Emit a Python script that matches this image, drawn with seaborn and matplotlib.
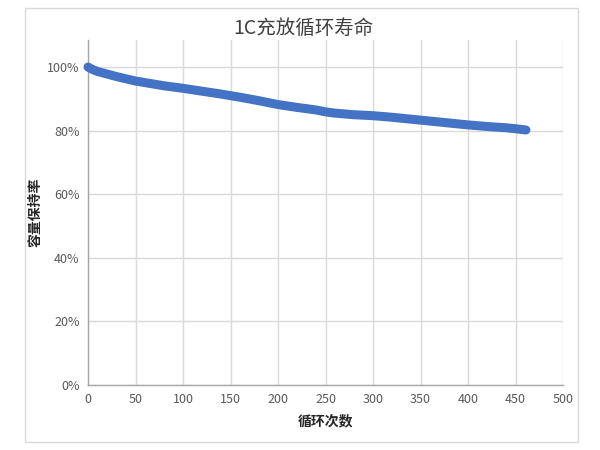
import matplotlib
matplotlib.use("Agg")
import matplotlib.pyplot as plt
import seaborn as sns
import pandas as pd
from matplotlib.patches import Rectangle
from matplotlib.ticker import FuncFormatter

cycles = [0, 5, 10, 20, 30, 40, 50, 60, 70, 80, 90, 100, 120, 140, 150, 160, 180,
          200, 220, 240, 250, 260, 280, 300, 320, 340, 350, 360, 380, 400, 420,
          440, 450, 461]
retention = [1.000, 0.992, 0.986, 0.978, 0.970, 0.963, 0.956, 0.951, 0.946, 0.941,
             0.937, 0.933, 0.924, 0.915, 0.910, 0.905, 0.894, 0.882, 0.873, 0.865,
             0.859, 0.855, 0.850, 0.847, 0.842, 0.836, 0.833, 0.830, 0.824, 0.818,
             0.813, 0.809, 0.806, 0.802]
x_ticks = [0, 50, 100, 150, 200, 250, 300, 350, 400, 450, 500]
y_ticks = [0, 0.2, 0.4, 0.6, 0.8, 1.0]
title = "1C充放循环寿命"
xlabel = "循环次数"
ylabel = "容量保持率"

sns.set_theme(style="whitegrid")
plt.rcParams["font.family"] = ["Noto Sans CJK SC", "DejaVu Sans"]

df = pd.DataFrame({"cycle": cycles, "retention": retention})

fig = plt.figure(figsize=(6, 4.5), dpi=100)
fig.patch.set_facecolor("white")
fig.add_artist(Rectangle((25 / 600, 1 - 442 / 450), 553 / 600, 434 / 450,
                         transform=fig.transFigure, fill=False,
                         edgecolor="#d9d9d9", linewidth=1))
ax = fig.add_axes([88 / 600, 1 - 385 / 450, 475 / 600, 345 / 450])

sns.lineplot(data=df, x="cycle", y="retention", ax=ax, color="#4472c4",
             linewidth=6.5, solid_capstyle="round", solid_joinstyle="round",
             clip_on=False, zorder=5)

ax.set_xlim(0, 500)
ax.set_ylim(0, 1.085)
ax.set_xticks(x_ticks)
ax.set_yticks(y_ticks)
ax.yaxis.set_major_formatter(FuncFormatter(lambda v, p: f"{v*100:.0f}%"))
ax.grid(True, color="#d9d9d9", linewidth=1)
ax.set_axisbelow(True)
for s in ["top", "right"]:
    ax.spines[s].set_visible(False)
for s in ["left", "bottom"]:
    ax.spines[s].set_color("#a6a6a6")
    ax.spines[s].set_linewidth(1)
ax.tick_params(axis="both", labelsize=9, colors="#595959", length=0, pad=6)

ax.set_xlabel(xlabel, fontsize=10, fontweight="bold", color="#262626", labelpad=6)
ax.set_ylabel(ylabel, fontsize=10, fontweight="bold", color="#262626", labelpad=3)
fig.text(303 / 600, 1 - 28 / 450, title, ha="center", va="center",
         fontsize=14, color="#404040")

fig.savefig("out.png", dpi=100)
